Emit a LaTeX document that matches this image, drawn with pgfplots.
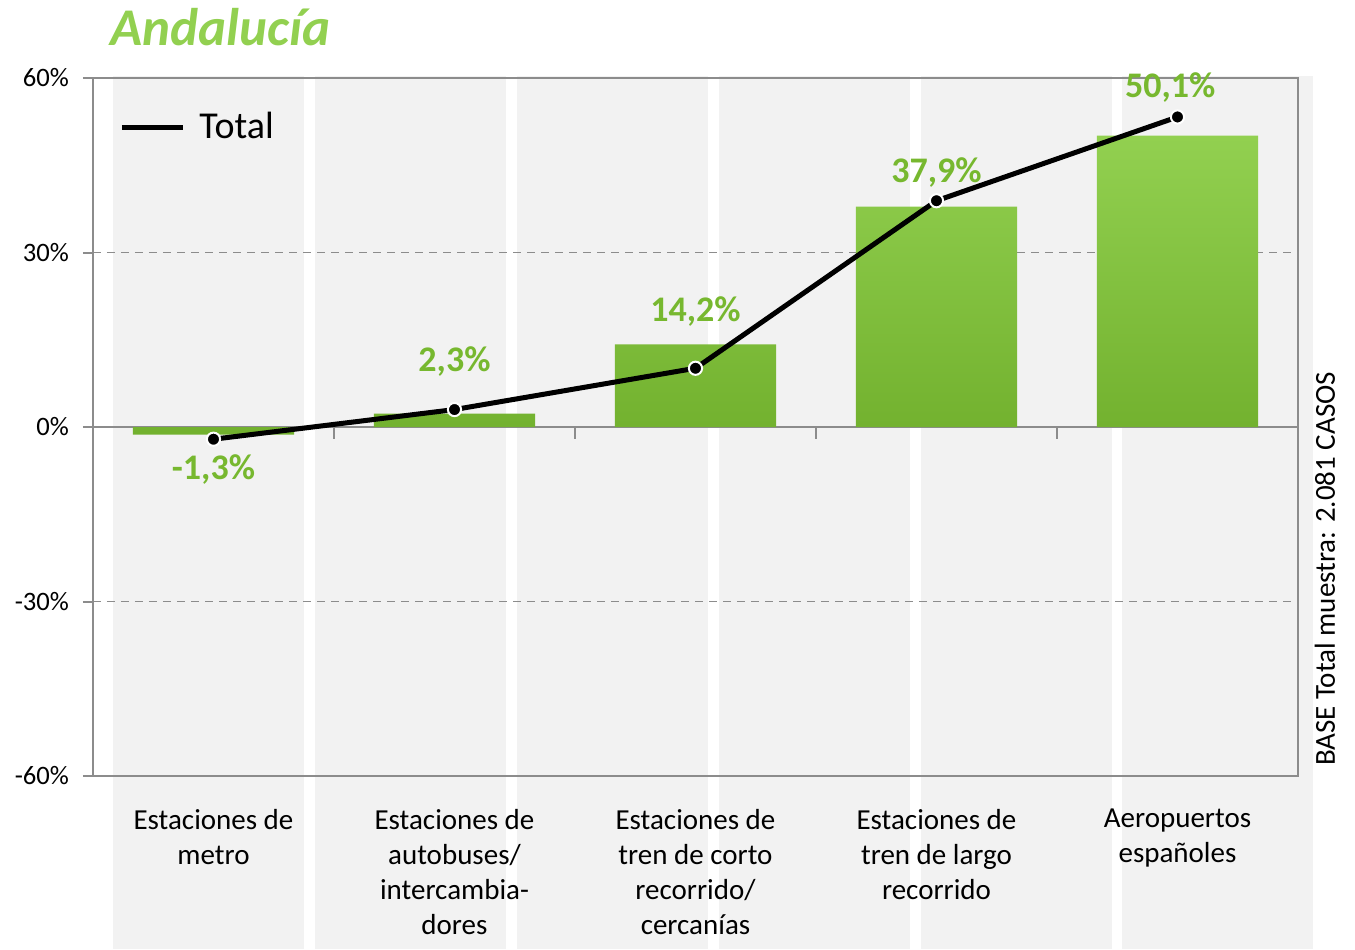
\documentclass[border=0pt]{standalone}
\usepackage{pgfplots}
\pgfplotsset{compat=1.18}
\usepackage{fontspec}
\setmainfont{Carlito}
\definecolor{stripe}{HTML}{F2F2F2}
\definecolor{bartop}{HTML}{92D050}
\definecolor{barbot}{HTML}{72B12E}
\definecolor{lblgreen}{HTML}{77B82F}
\definecolor{titlegreen}{HTML}{92D050}
\definecolor{axgray}{HTML}{8C8C8C}
\begin{document}
\begin{tikzpicture}
\useasboundingbox (0,0) rectangle (677.5pt,474.5pt);
\foreach \a/\b in {56.5/152, 157.5/253, 258.5/354, 359.5/455, 460.5/556, 561/656.5}
  \fill[stripe] (\a pt,0pt) rectangle (\b pt,436.5pt);
\begin{axis}[
  at={(46.5pt,86.5pt)}, anchor=south west,
  width=602.5pt, height=349pt, scale only axis,
  xmin=-0.5, xmax=4.5, ymin=-60, ymax=60,
  ytick={-60,-30,0,30,60},
  yticklabel={\pgfmathprintnumber{\tick}\%},
  /pgf/number format/assume math mode=true,
  yticklabel style={font=\fontsize{13.3pt}{15pt}\selectfont, xshift=-3.5pt},
  ytick pos=left, tick align=outside, major tick length=5pt,
  tick style={axgray, line width=1pt},
  xtick={0,1,2,3,4},
  xtick style={draw=none},
  xticklabels={{Estaciones de\\metro},{Estaciones de\\autobuses/\\intercambia-\\dores},{Estaciones de\\tren de corto\\recorrido/\\cercanías},{Estaciones de\\tren de largo\\recorrido},{Aeropuertos\\españoles}},
  xticklabel style={align=center, anchor=north, yshift=-8pt, font=\fontsize{14.5pt}{17.5pt}\selectfont},
  axis line style={axgray, line width=1pt},
  ymajorgrids, grid style={axgray, line width=0.8pt, dash pattern=on 4pt off 3pt},
  legend style={at={(0,1)}, anchor=north west, xshift=10pt, yshift=-13pt, draw=none, fill=none, font=\fontsize{19pt}{21pt}\selectfont},
  legend image code/.code={\draw[line width=2.5pt] (0pt,0pt) -- (30.5pt,0pt); \path (35.5pt,0pt);},
]
\draw[axgray, line width=1pt] (axis cs:-0.5,0) -- (axis cs:4.5,0);
\draw[axgray, line width=1pt] (axis cs:0.5,0) -- ++(0pt,-6pt);
\draw[axgray, line width=1pt] (axis cs:1.5,0) -- ++(0pt,-6pt);
\draw[axgray, line width=1pt] (axis cs:2.5,0) -- ++(0pt,-6pt);
\draw[axgray, line width=1pt] (axis cs:3.5,0) -- ++(0pt,-6pt);
\addplot[ybar, bar width=80.5pt, draw=none, top color=bartop, bottom color=barbot, forget plot]
  coordinates {(0,-1.3) (1,2.3) (2,14.2) (3,37.9) (4,50.1)};
\addplot[draw=none, mark=none, forget plot, nodes near coords={\pgfplotspointmeta\%}, point meta=explicit symbolic, nodes near coords align={center},
  every node near coord/.append style={font=\fontsize{18pt}{20pt}\selectfont\bfseries, color=lblgreen}]
  table[meta=label] {
x y label
0 -7.3 -1,3
1 11.3 2,3
2 19.9 14,2
3 43.7 37,9
3.97 58.4 50,1
};
\addplot[black, line width=2.5pt, mark=*, mark size=3.3pt, mark options={fill=black, draw=white, line width=1pt}]
  coordinates {(0,-2.1) (1,3.0) (2,10.1) (3,38.9) (4,53.3)};
\addlegendentry{Total}
\end{axis}
\node[anchor=base west, font=\fontsize{26.5pt}{30pt}\selectfont\bfseries\itshape, text=titlegreen, inner sep=0pt] at (55pt,451.5pt) {Andalucía};
\node[rotate=90, font=\fontsize{14.5pt}{17pt}\selectfont, inner sep=0pt] at (662.5pt,190pt) {BASE Total muestra: 2.081 CASOS};
\end{tikzpicture}
\end{document}
